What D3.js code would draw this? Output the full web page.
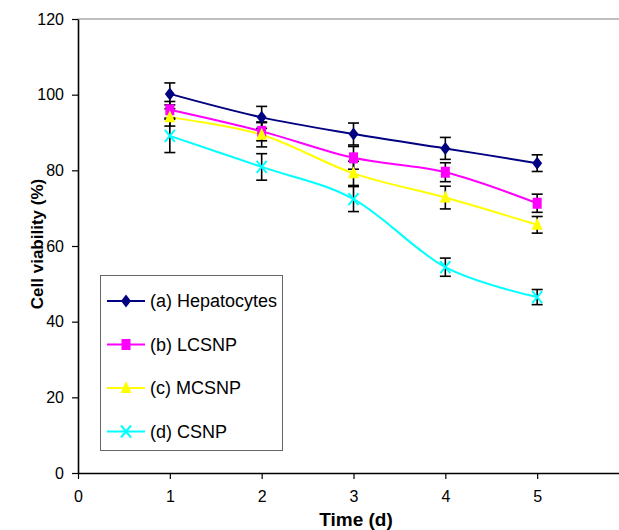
<!DOCTYPE html>
<html>
<head>
<meta charset="utf-8">
<script src="https://cdn.jsdelivr.net/npm/d3@7"></script>
<style>
  html, body { margin: 0; padding: 0; background: #fff; }
  svg { display: block; font-family: Arial, "Liberation Sans", sans-serif; }
</style>
</head>
<body>
<svg id="chart" width="619" height="530"></svg>
<script>
const days = [1, 2, 3, 4, 5];
const xTicks = [0, 1, 2, 3, 4, 5];
const yTicks = [0, 20, 40, 60, 80, 100, 120];
const seriesNames = ["(a) Hepatocytes", "(b) LCSNP", "(c) MCSNP", "(d) CSNP"];
const hepatocytes = [100.2, 94.0, 89.6, 85.8, 81.9];
const hepatocytesErr = [2.9, 2.9, 2.9, 2.9, 2.2];
const lcsnp = [96.0, 90.3, 83.3, 79.5, 71.3];
const lcsnpErr = [2.2, 2.5, 3.0, 2.5, 2.4];
const mcsnp = [94.0, 89.4, 79.2, 72.8, 65.6];
const mcsnpErr = [2.3, 3.2, 3.2, 3.0, 2.2];
const csnp = [89.1, 80.9, 72.4, 54.4, 46.5];
const csnpErr = [4.4, 3.5, 3.3, 2.4, 2.0];

const series = [
  { name: seriesNames[0], values: hepatocytes, err: hepatocytesErr, color: "#000080", marker: "diamond" },
  { name: seriesNames[1], values: lcsnp, err: lcsnpErr, color: "#FF00FF", marker: "square" },
  { name: seriesNames[2], values: mcsnp, err: mcsnpErr, color: "#FFFF00", marker: "triangle" },
  { name: seriesNames[3], values: csnp, err: csnpErr, color: "#00FFFF", marker: "x" }
];

const svg = d3.select("#chart");
const x = d3.scaleLinear().domain([0, 6]).range([78, 629]);
const y = d3.scaleLinear().domain([0, 120]).range([473, 19]);

// top plot border
svg.append("line").attr("x1", x(0)).attr("x2", 619).attr("y1", y(120)).attr("y2", y(120))
  .attr("stroke", "#808080").attr("stroke-width", 1);

// axes
const yAxis = d3.axisLeft(y).tickValues(yTicks).tickFormat(d3.format("d"))
  .tickSize(6).tickPadding(8).tickSizeOuter(0);
const gy = svg.append("g").attr("transform", `translate(${x(0)},0)`).call(yAxis);
const xAxis = d3.axisBottom(x).tickValues(xTicks).tickFormat(d3.format("d"))
  .tickSize(6).tickPadding(9).tickSizeOuter(0);
const gx = svg.append("g").attr("transform", `translate(0,${y(0)})`).call(xAxis);
[gx, gy].forEach(g => {
  g.select(".domain").attr("stroke", "#000").attr("stroke-width", 1.6);
  g.selectAll(".tick line").attr("stroke", "#000").attr("stroke-width", 1.2);
  g.selectAll(".tick text").attr("font-size", 16).attr("fill", "#000")
    .attr("font-family", "Arial, 'Liberation Sans', sans-serif");
});
gx.selectAll(".tick text").attr("dy", "0.9em");

// axis titles
svg.append("text").attr("transform", `translate(43,244) rotate(-90)`)
  .attr("text-anchor", "middle").attr("font-size", 17).attr("font-weight", "bold")
  .text("Cell viability (%)");
svg.append("text").attr("x", 356).attr("y", 526)
  .attr("text-anchor", "middle").attr("font-size", 19).attr("font-weight", "bold")
  .text("Time (d)");

// lines
const line = d3.line().x(d => x(d.x)).y(d => y(d.y)).curve(d3.curveCardinal.tension(0));
series.forEach(s => {
  const pts = days.map((d, i) => ({ x: d, y: s.values[i] }));
  svg.append("path").datum(pts).attr("d", line).attr("fill", "none")
    .attr("stroke", s.color).attr("stroke-width", 2);
});

// error bars
const cap = 5.5;
series.forEach(s => {
  const g = svg.append("g").attr("stroke", "#000").attr("stroke-width", 1.6);
  days.forEach((d, i) => {
    const cx = x(d), top = y(s.values[i] + s.err[i]), bot = y(s.values[i] - s.err[i]);
    g.append("line").attr("x1", cx).attr("x2", cx).attr("y1", top).attr("y2", bot);
    g.append("line").attr("x1", cx - cap).attr("x2", cx + cap).attr("y1", top).attr("y2", top);
    g.append("line").attr("x1", cx - cap).attr("x2", cx + cap).attr("y1", bot).attr("y2", bot);
  });
});

function drawMarker(g, type, cx, cy, color) {
  if (type === "diamond") {
    g.append("path").attr("d", `M${cx},${cy - 6.5}L${cx + 5},${cy}L${cx},${cy + 6.5}L${cx - 5},${cy}Z`)
      .attr("fill", color);
  } else if (type === "square") {
    g.append("rect").attr("x", cx - 4.5).attr("y", cy - 5.5).attr("width", 9).attr("height", 11)
      .attr("fill", color);
  } else if (type === "triangle") {
    g.append("path").attr("d", `M${cx},${cy - 7}L${cx + 5.5},${cy + 5}L${cx - 5.5},${cy + 5}Z`)
      .attr("fill", color);
  } else {
    g.append("path").attr("d", `M${cx - 5},${cy - 6}L${cx + 5},${cy + 6}M${cx + 5},${cy - 6}L${cx - 5},${cy + 6}`)
      .attr("stroke", color).attr("stroke-width", 2).attr("fill", "none");
  }
}

// markers
series.forEach(s => {
  const g = svg.append("g");
  days.forEach((d, i) => drawMarker(g, s.marker, x(d), y(s.values[i]), s.color));
});

// legend
const lg = svg.append("g");
lg.append("rect").attr("x", 100.5).attr("y", 275.5).attr("width", 182).attr("height", 175)
  .attr("fill", "#fff").attr("stroke", "#666").attr("stroke-width", 1);
const rowY = [301, 344.5, 388, 431.5];
series.forEach((s, i) => {
  const yy = rowY[i];
  lg.append("line").attr("x1", 107).attr("x2", 145).attr("y1", yy).attr("y2", yy)
    .attr("stroke", s.color).attr("stroke-width", 2);
  drawMarker(lg, s.marker, 126, yy, s.color);
  lg.append("text").attr("x", 150).attr("y", yy).attr("dy", "0.35em")
    .attr("font-size", 18).attr("fill", "#000").text(s.name);
});
</script>
</body>
</html>
